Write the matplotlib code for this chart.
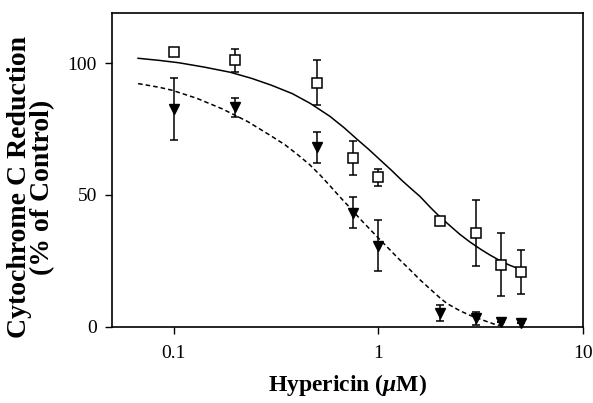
import numpy as np
import matplotlib
matplotlib.use('Agg')
import matplotlib.pyplot as plt
from matplotlib.ticker import FixedLocator, NullLocator, FixedFormatter

plt.rcParams['font.family'] = ['Liberation Serif', 'DejaVu Serif']
plt.rcParams['mathtext.fontset'] = 'custom'
plt.rcParams['mathtext.it'] = 'Liberation Serif:italic:bold'

# measured points (open squares) and errors
conc = [0.1, 0.2, 0.5, 0.75, 1, 2, 3, 4, 5]
sq_vals = [104, 101, 92.5, 64, 56.7, 40, 35.5, 23.6, 20.8]
sq_err = [0, 4.4, 8.5, 6.3, 3.3, 0, 12.6, 12, 8.5]

# filled down-triangles and errors
tri_vals = [82.5, 83.3, 68, 43.3, 30.8, 5.4, 3.2, 1.9, 1.3]
tri_err = [11.8, 3.6, 5.9, 5.9, 9.7, 3.0, 2.5, 0, 0]

# fitted curves
fit_sq_x = [0.067, 0.085, 0.106, 0.14, 0.189, 0.24, 0.3, 0.38, 0.465, 0.58,
            0.68, 0.79, 0.9, 1.02, 1.15, 1.3, 1.45, 1.6, 1.8, 2.0, 2.25,
            2.5, 2.8, 3.15, 3.5, 3.95, 4.4, 4.95]
fit_sq_y = [101.8, 101.0, 100.1, 98.5, 96.5, 94.2, 91.6, 88.4, 84.7, 79.8,
            75.5, 71.0, 67.2, 63.3, 59.6, 55.6, 52.3, 49.4, 45.2, 41.7, 38.2,
            35.1, 32.2, 29.5, 27.3, 25.0, 23.3, 21.8]
fit_tri_x = [0.067, 0.085, 0.098, 0.13, 0.173, 0.23, 0.296, 0.35, 0.40, 0.46,
             0.52, 0.58, 0.65, 0.73, 0.817, 0.92, 1.02, 1.12, 1.25, 1.43,
             1.6, 1.8, 2.0, 2.17, 2.52, 2.8, 3.15, 3.45, 3.73, 4.0]
fit_tri_y = [92.2, 90.8, 89.7, 86.6, 82.6, 77.8, 72.6, 69.0, 65.5, 61.6,
             57.5, 53.5, 49.2, 45.0, 40.8, 36.6, 33.0, 29.8, 26.0, 21.6,
             17.8, 14.2, 11.0, 8.8, 6.0, 4.4, 2.9, 1.8, 0.9, 0.4]

fig = plt.figure(figsize=(5.93, 4.03), dpi=100)
ax = fig.add_axes([0.189, 0.189, 0.794, 0.779])

ax.plot(fit_sq_x, fit_sq_y, '-', color='black', lw=1.1, zorder=2)
ax.plot(fit_tri_x, fit_tri_y, '--', color='black', lw=1.1, dashes=(3, 2), zorder=2)

ax.errorbar(conc, sq_vals, yerr=sq_err, fmt='none', ecolor='black',
            elinewidth=1.1, capsize=3.2, capthick=1.1, zorder=3)
ax.errorbar(conc, tri_vals, yerr=tri_err, fmt='none', ecolor='black',
            elinewidth=1.1, capsize=3.2, capthick=1.1, zorder=3)
ax.plot(conc, sq_vals, 's', ms=7, mfc='white', mec='black', mew=1.1,
        zorder=4, clip_on=False)
ax.plot(conc, tri_vals, 'v', ms=7, mfc='black', mec='black',
        zorder=4, clip_on=False)

ax.set_xscale('log')
ax.set_xlim(0.05, 10)
ax.set_ylim(0, 119)
ax.xaxis.set_major_locator(FixedLocator([0.1, 1, 10]))
ax.xaxis.set_major_formatter(FixedFormatter(['0.1', '1', '10']))
ax.xaxis.set_minor_locator(NullLocator())
ax.set_yticks([0, 50, 100])

for s in ax.spines.values():
    s.set_linewidth(1.2)
ax.tick_params(direction='out', length=5, width=1.0, labelsize=14, pad=6)
ax.tick_params(axis='x', pad=8)

ax.set_xlabel(r'Hypericin ($\mu$M)', fontsize=17, fontweight='bold', labelpad=7)
ax.set_ylabel('Cytochrome C Reduction\n(% of Control)', fontsize=20,
              fontweight='bold', linespacing=0.92)
ax.yaxis.set_label_coords(-0.12, 0.445)

fig.savefig('out.png', dpi=100)
